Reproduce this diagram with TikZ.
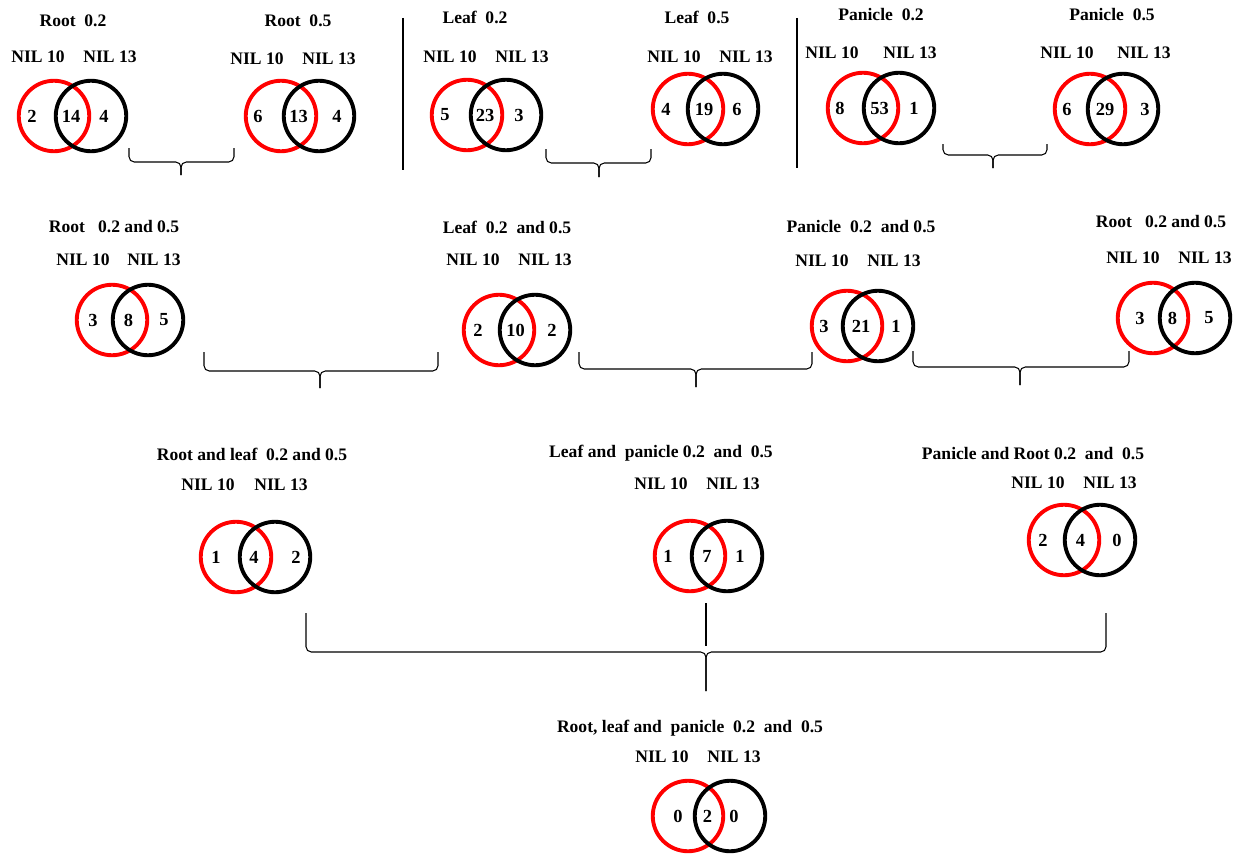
\documentclass[tikz,border=0pt]{standalone}
\usepackage{fontspec}
\setmainfont{Liberation Serif}
\usetikzlibrary{calc}

\tikzset{
	setA/.style={circle, draw=red, line width=2.2pt, minimum size=1.41cm, inner sep=0pt},
	setB/.style={circle, draw=black, line width=2.2pt, minimum size=1.41cm, inner sep=0pt},
	lbl/.style={font=\bfseries, inner sep=1pt},
	cnt/.style={font=\bfseries\fontsize{10.5}{12}\selectfont, inner sep=1pt},
	brk/.style={line width=0.6pt, rounded corners=3pt},
}

\begin{document}
\begin{tikzpicture}[x=0.02cm, y=-0.02cm]
	\useasboundingbox (0,0) rectangle (1244,855);
	% titles and sample labels
	\foreach \i/\tx/\ty/\px/\qx/\ly/\t in {
		1/73/21/38/110/57/{Root~~0.2},
		2/298/21/257/329/59/{Root~~0.5},
		3/475/17/450/522/57/{Leaf~~0.2},
		4/697/17/674/746/57/{Leaf~~0.5},
		5/881/15/832/910/53/{Panicle~~0.2},
		6/1112/15/1067/1144/53/{Panicle~~0.5},
		7/114/227/83/154/260/{Root~~ 0.2 and 0.5},
		8/507/227/473/545/260/{Leaf~~0.2~~and 0.5},
		9/861/227/822/894/261/{Panicle~~0.2~~and 0.5},
		10/1161/222/1133/1205/258/{Root~~ 0.2 and 0.5},
		11/252/454/208/281/485/{Root and leaf~~0.2 and 0.5},
		12/661/453/661/733/484/{Leaf and~~panicle 0.2~~and~~0.5},
		13/1033/454/1038/1110/483/{Panicle and Root 0.2~~and~~0.5},
		14/690/728/662/734/757/{Root, leaf and~~panicle~~0.2~~and~~0.5}}{
		\node[lbl] (t\i) at (\tx,\ty) {\t};
		\node[lbl] (p\i) at (\px,\ly) {NIL 10};
		\node[lbl] (q\i) at (\qx,\ly) {NIL 13};
	}
	% venn diagrams
	\foreach \i/\rx/\bx/\cy/\xa/\xc/\na/\nb/\nc in {
		1/54/91/116/32/104/2/14/4,
		2/281/319/116/258/337/6/13/4,
		3/467/506/115/445/519/5/23/3,
		4/688/723/109/666/737/4/19/6,
		5/863/899/108/840/914/8/53/1,
		6/1090/1123/109/1067/1145/6/29/3,
		7/112/148/320/93/164/3/8/5,
		8/499/535/330/478/552/2/10/2,
		9/847/878/326/824/896/3/21/1,
		10/1153/1195/318/1140/1209/3/8/5,
		11/236/275/557/216/296/1/4/2,
		12/690/727/556/668/740/1/7/1,
		13/1064/1100/540/1043/1117/2/4/0,
		14/688/730/816/678/734/0/2/0}{
		\node[setA] (a\i) at (\rx,\cy) {};
		\node[setB] (b\i) at (\bx,\cy) {};
		\node[cnt] (l\i) at (\xa,\cy) {\na};
		\node[cnt] (m\i) at ($(a\i)!0.5!(b\i)+(-1.5,0)$) {\nb};
		\node[cnt] (r\i) at (\xc,\cy) {\nc};
	}
	% braces
	\foreach \j/\xl/\xr/\xm/\yt/\yh/\yb in {
		1/129/234/181/148/162/175,
		2/546/651/599/149/163/177,
		3/943/1047/993/144/155/168,
		4/204/438/320/352/371/388,
		5/579/812/696/352/369/387,
		6/913/1129/1020/351/367/385,
		7/306/1106/706/613/652/691}{
		\coordinate (bl\j) at (\xl,\yt);
		\coordinate (br\j) at (\xr,\yt);
		\coordinate (bt\j) at (\xm,\yb);
		\draw[brk] (bl\j) -- (\xl,\yh) -- (\xm,\yh) -- (bt\j);
		\draw[brk] (br\j) -- (\xr,\yh) -- (\xm,\yh) -- (bt\j);
	}
	\coordinate (s1) at (706,603);
	\coordinate (s2) at (706,646);
	\draw[line width=0.6pt] (s1) -- (s2);
	% separators
	\draw[line width=0.8pt] (403,18) -- (403,170);
	\draw[line width=0.8pt] (797,18) -- (797,168);
\end{tikzpicture}
\end{document}
